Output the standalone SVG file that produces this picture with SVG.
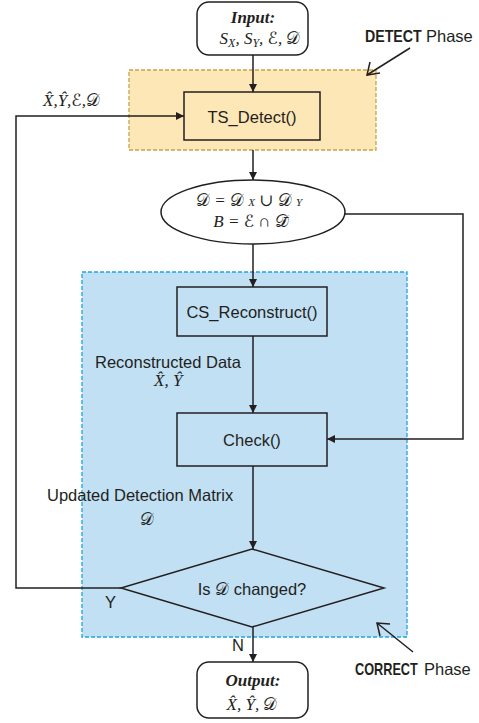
<svg xmlns="http://www.w3.org/2000/svg" width="479" height="723" viewBox="0 0 479 723">
<style>
.ln{fill:none;stroke:#231f20;stroke-width:1.5}
.box{stroke:#231f20;stroke-width:1.5}
.lbl{font-family:"Liberation Sans",Arial,sans-serif;font-size:16.5px;fill:#231f20}
.mth{font-family:"Liberation Serif","DejaVu Serif",serif;font-style:italic;font-size:17px;fill:#231f20}
.cal{font-family:"DejaVu Serif","DejaVu Sans","Noto Sans",serif;font-style:normal}
</style>
<defs>
<marker id="ah" viewBox="0 0 10 10" refX="10" refY="5" markerWidth="8" markerHeight="8" markerUnits="userSpaceOnUse" orient="auto">
<path d="M0,0 L10,5 L0,10 z" fill="#231f20"/>
</marker>
</defs>
<rect width="479" height="723" fill="#ffffff"/>

<g id="detect-phase">
<rect x="129" y="70" width="247" height="80" fill="#fde7b6" stroke="#c9a348" stroke-width="1.3" stroke-dasharray="4,2"/>
<text transform="translate(365,42) scale(0.86,1)" class="lbl" font-weight="bold">DETECT</text>
<text x="426" y="42" class="lbl">Phase</text>
<path d="M410,48 L367,75" class="ln" stroke-width="2"/>
<path d="M370,62 L367,75 L380,73" class="ln" stroke-width="2"/>
</g>

<g id="correct-phase">
<rect x="82" y="272" width="325" height="365" fill="#c2e0f4" stroke="#1ba6e0" stroke-width="1.3" stroke-dasharray="4,2"/>
<text transform="translate(355,675) scale(0.77,1)" class="lbl" font-weight="bold">CORRECT</text>
<text x="424" y="675" class="lbl">Phase</text>
<path d="M413,652 L377,623" class="ln" stroke-width="2"/>
<path d="M390,624 L377,623 L380,636" class="ln" stroke-width="2"/>
</g>

<g id="connectors">
<path d="M253,55 L253,92" class="ln" marker-end="url(#ah)"/>
<path d="M253,150 L253,180" class="ln" marker-end="url(#ah)"/>
<path d="M253,244 L253,287" class="ln" marker-end="url(#ah)"/>
<path d="M253,336 L253,413" class="ln" marker-end="url(#ah)"/>
<path d="M253,466 L253,549" class="ln" marker-end="url(#ah)"/>
<path d="M253,627 L253,662" class="ln" marker-end="url(#ah)"/>
<path d="M345,214 L463,214 L463,439 L327,439" class="ln" marker-end="url(#ah)"/>
<path d="M121,588 L16,588 L16,116 L184,116" class="ln" marker-end="url(#ah)"/>
<text x="43" y="106" class="mth">X̂,Ŷ,<tspan class="cal">ℰ</tspan>,<tspan class="cal">𝒟</tspan></text>
<text x="95" y="368" class="lbl">Reconstructed Data</text>
<text x="154" y="386" class="mth">X̂, Ŷ</text>
<text x="47" y="501" class="lbl">Updated Detection Matrix</text>
<text x="140" y="525" class="mth"><tspan class="cal">𝒟</tspan></text>
<text x="105" y="608" class="lbl">Y</text>
<text x="232" y="651" class="lbl">N</text>
</g>

<g id="input">
<rect x="197" y="2" width="111" height="53" rx="12" fill="#ffffff" class="box"/>
<text x="253" y="23" class="mth" text-anchor="middle" font-weight="bold">Input:</text>
<text x="260" y="44" class="mth" text-anchor="middle">S<tspan font-size="12" dy="3">X</tspan><tspan dy="-3">, S</tspan><tspan font-size="12" dy="3">Y</tspan><tspan dy="-3">, </tspan><tspan class="cal">ℰ</tspan>, <tspan class="cal">𝒟</tspan></text>
</g>

<g id="ts-detect">
<rect x="184" y="92" width="136" height="48" fill="#fde7b6" class="box"/>
<text x="252" y="123" class="lbl" text-anchor="middle">TS_Detect()</text>
</g>

<g id="union">
<ellipse cx="253" cy="212" rx="92" ry="32" fill="#ffffff" class="box"/>
<text x="249" y="206" class="mth" font-size="15" text-anchor="middle"><tspan class="cal">𝒟</tspan> = <tspan class="cal">𝒟</tspan> <tspan font-size="11">X</tspan> ∪ <tspan class="cal">𝒟</tspan> <tspan font-size="11">Y</tspan></text>
<text x="251" y="227" class="mth" font-size="15" text-anchor="middle">B = <tspan class="cal">ℰ</tspan> ∩ <tspan class="cal">𝒟̄</tspan></text>
</g>

<g id="cs-reconstruct">
<rect x="177" y="287" width="150" height="49" fill="#c2e0f4" class="box"/>
<text x="252" y="318" class="lbl" text-anchor="middle">CS_Reconstruct()</text>
</g>

<g id="check">
<rect x="177" y="413" width="150" height="53" fill="#c2e0f4" class="box"/>
<text x="252" y="446" class="lbl" text-anchor="middle">Check()</text>
</g>

<g id="decision">
<path d="M252,549 L384,588 L252,627 L121,588 Z" fill="#c2e0f4" class="box"/>
<text x="252" y="595" class="lbl" text-anchor="middle">Is <tspan class="mth cal">𝒟</tspan> changed?</text>
</g>

<g id="output">
<rect x="197" y="662" width="111" height="56" rx="12" fill="#ffffff" class="box"/>
<text x="253" y="686" class="mth" text-anchor="middle" font-weight="bold">Output:</text>
<text x="252" y="710" class="mth" text-anchor="middle">X̂, Ŷ, <tspan class="cal">𝒟</tspan></text>
</g>
</svg>
